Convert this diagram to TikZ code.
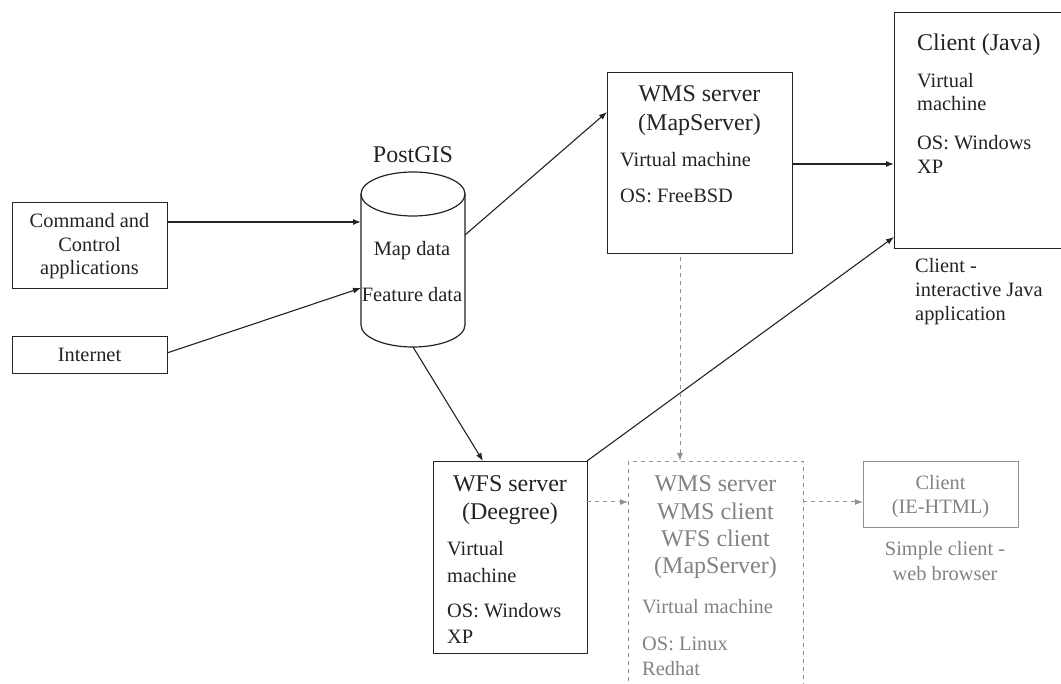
\documentclass[tikz,border=0pt]{standalone}
\usepackage{fontspec}
\setmainfont{Liberation Serif}
\usetikzlibrary{arrows.meta}
\definecolor{dk}{RGB}{35,35,35}
\definecolor{lg}{RGB}{145,145,145}
\definecolor{lgt}{RGB}{130,130,130}
\begin{document}
\begin{tikzpicture}[x=1pt,y=1pt,
  box/.style={draw=dk,line width=1.3pt,inner sep=0pt,anchor=north west},
  gbox/.style={draw=lg,line width=1pt,inner sep=0pt,anchor=north west},
  ttl/.style={font=\fontsize{24}{28}\selectfont,inner sep=0pt,anchor=base,text=dk},
  bd/.style={font=\fontsize{20.4}{24}\selectfont,inner sep=0pt,anchor=base west,text=dk},
  bdc/.style={bd,anchor=base},
  gttl/.style={ttl,text=lgt},
  gbd/.style={bd,text=lgt},
  gbdc/.style={bdc,text=lgt},
  arr/.style={draw=dk,line width=1.1pt,-{Latex[length=8pt,width=6pt]}},
  garr/.style={draw=lg,line width=1pt,dash pattern=on 4pt off 4pt,-{Latex[length=8pt,width=6pt]}}]
\useasboundingbox (0,0) rectangle (1061,-684);
\clip (0,0) rectangle (1061,-684);

% Command and Control
\node[box,minimum width=155pt,minimum height=86pt] (cmd) at (12,-202) {};
\node[bdc] (cmdt1) at (89.5,-228) {Command and};
\node[bdc] (cmdt2) at (89.5,-252) {Control};
\node[bdc] (cmdt3) at (89.5,-275) {applications};

% Internet
\node[box,minimum width=155pt,minimum height=37pt] (inet) at (12,-336) {};
\node[bdc] (inett) at (89.5,-362) {Internet};

% PostGIS cylinder
\node[inner sep=0pt,minimum width=104pt,minimum height=175pt,anchor=north west] (db) at (361,-172) {};
\draw[draw=dk,line width=1.2pt] (413,-194) ellipse [x radius=52,y radius=22];
\draw[draw=dk,line width=1.2pt] (361,-194) -- (361,-325) arc[start angle=180,end angle=360,x radius=52,y radius=22] -- (465,-194);
\node[ttl] (dbt) at (413,-163) {PostGIS};
\node[bdc] (dbt1) at (412,-256) {Map data};
\node[bdc] (dbt2) at (412,-302) {Feature data};

% WMS server
\node[box,minimum width=185pt,minimum height=181pt] (wms) at (607,-72) {};
\node[ttl] (wmst1) at (699.5,-102) {WMS server};
\node[ttl] (wmst2) at (699.5,-131) {(MapServer)};
\node[bd] (wmst3) at (620,-167) {Virtual machine};
\node[bd] (wmst4) at (620,-203) {OS: FreeBSD};

% Client (Java)
\node[box,minimum width=190pt,minimum height=236pt] (java) at (894,-12) {};
\node[ttl,anchor=base west] (javat1) at (917,-51) {Client (Java)};
\node[bd] (javat2) at (917,-88) {Virtual};
\node[bd] (javat3) at (917,-111) {machine};
\node[bd] (javat4) at (917,-150) {OS: Windows};
\node[bd] (javat5) at (917,-174) {XP};
\node[bd] (javat6) at (915,-273) {Client -};
\node[bd] (javat7) at (915,-297) {interactive Java};
\node[bd] (javat8) at (915,-321) {application};

% WFS server
\node[box,minimum width=154pt,minimum height=192pt] (wfs) at (433,-461) {};
\node[ttl] (wfst1) at (510,-492) {WFS server};
\node[ttl] (wfst2) at (510,-519) {(Deegree)};
\node[bd] (wfst3) at (447,-555) {Virtual};
\node[bd] (wfst4) at (447,-582) {machine};
\node[bd] (wfst5) at (447,-617) {OS: Windows};
\node[bd] (wfst6) at (447,-643) {XP};

% WMS server (grey, dashed)
\node[gbox,dash pattern=on 4pt off 4pt,minimum width=175pt,minimum height=250pt] (wms2) at (628,-461) {};
\node[gttl] (wms2t1) at (715.5,-492) {WMS server};
\node[gttl] (wms2t2) at (715.5,-520) {WMS client};
\node[gttl] (wms2t3) at (715.5,-547) {WFS client};
\node[gttl] (wms2t4) at (715.5,-573) {(MapServer)};
\node[gbd] (wms2t5) at (642,-613) {Virtual machine};
\node[gbd] (wms2t6) at (642,-650) {OS: Linux};
\node[gbd] (wms2t7) at (642,-675) {Redhat};

% Client (IE-HTML)
\node[gbox,minimum width=155pt,minimum height=66pt] (ie) at (863,-461) {};
\node[gbdc] (iet1) at (940.5,-490) {Client};
\node[gbdc] (iet2) at (940.5,-514) {(IE-HTML)};
\node[gbdc] (iet3) at (945,-555) {Simple client -};
\node[gbdc] (iet4) at (945,-580) {web browser};

% connector end points
\coordinate (cmdE) at (cmd.east);
\coordinate (dbIn1) at (361,-222);
\coordinate (inetE) at (167,-353);
\coordinate (dbIn2) at (361,-288);
\coordinate (dbOut1) at (465,-235);
\coordinate (wmsIn) at (607,-112);
\coordinate (wmsOut) at (792,-164);
\coordinate (javaIn1) at (894,-164);
\coordinate (dbOut2) at (413,-347);
\coordinate (wfsIn) at (483,-461);
\coordinate (wfsOut) at (587,-461);
\coordinate (javaIn2) at (894,-237);
\coordinate (wmsDown) at (680,-257);
\coordinate (wms2In) at (680,-461);
\coordinate (wfsR) at (587,-502);
\coordinate (wms2L) at (628,-502);
\coordinate (wms2R) at (803,-502);
\coordinate (ieL) at (863,-502);

\draw[arr] (cmdE |- dbIn1) -- (dbIn1);
\draw[arr] (inetE) -- (dbIn2);
\draw[arr] (dbOut1) -- (wmsIn);
\draw[arr] (wmsOut) -- (javaIn1);
\draw[arr] (dbOut2) -- (wfsIn);
\draw[arr] (wfsOut) -- (javaIn2);
\draw[garr] (wmsDown) -- (wms2In);
\draw[garr] (wfsR) -- (wms2L);
\draw[garr] (wms2R) -- (ieL);
\end{tikzpicture}
\end{document}
